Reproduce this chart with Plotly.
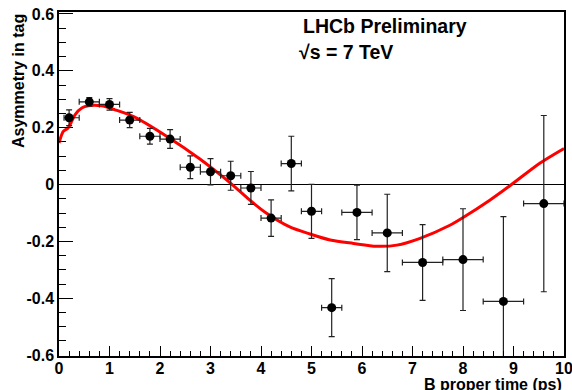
import plotly.graph_objects as go

# ---- data ----
time_ps = [0.2, 0.6, 1.0, 1.4, 1.8, 2.2, 2.6, 3.0, 3.4, 3.8, 4.2, 4.6, 5.0, 5.4, 5.9, 6.5, 7.2, 8.0, 8.8, 9.6]
asym = [0.235, 0.291, 0.282, 0.227, 0.170, 0.160, 0.061, 0.045, 0.031, -0.012, -0.118, 0.074, -0.094, -0.433,
        -0.098, -0.170, -0.274, -0.264, -0.411, -0.067]
asym_err = [0.028, 0.015, 0.02, 0.027, 0.028, 0.033, 0.04, 0.046, 0.051, 0.058, 0.064, 0.096, 0.095, 0.102,
            0.096, 0.136, 0.133, 0.179, 0.298, 0.31]
t_err_minus = [0.1, 0.2, 0.2, 0.2, 0.2, 0.2, 0.2, 0.2, 0.2, 0.2, 0.2, 0.2, 0.2, 0.2, 0.3, 0.3, 0.4, 0.4, 0.4, 0.4]
t_err_plus = [0.2, 0.2, 0.2, 0.2, 0.2, 0.2, 0.2, 0.2, 0.2, 0.2, 0.2, 0.2, 0.2, 0.2, 0.3, 0.3, 0.4, 0.4, 0.4, 0.4]

fit_t = [0, 0.085, 0.18, 0.32, 0.45, 0.58, 0.84, 1.11, 1.49, 2.13, 2.79, 3.19, 3.43, 3.78, 4.11, 4.57, 4.97,
         5.37, 5.83, 6.29, 6.69, 7.15, 7.74, 8.01, 8.53, 8.96, 9.52, 10]
fit_y = [0.146, 0.187, 0.199, 0.246, 0.269, 0.277, 0.277, 0.263, 0.238, 0.17, 0.09, 0.035, 0.0, -0.055,
         -0.101, -0.149, -0.174, -0.195, -0.207, -0.217, -0.213, -0.189, -0.143, -0.115, -0.055, 0.0, 0.075,
         0.127]

x_tickvals = [0, 1, 2, 3, 4, 5, 6, 7, 8, 9, 10]
x_ticktext = ["0", "1", "2", "3", "4", "5", "6", "7", "8", "9", "10"]
y_tickvals = [-0.6, -0.4, -0.2, 0, 0.2, 0.4, 0.6]
y_ticktext = ["-0.6", "-0.4", "-0.2", "0", "0.2", "0.4", "0.6"]

FONT = "Liberation Sans, Arial, Helvetica, sans-serif"

fig = go.Figure()

fig.add_trace(go.Scatter(
    x=fit_t, y=fit_y, mode="lines",
    line=dict(color="#ff0000", width=3, shape="spline", smoothing=0.8),
    hoverinfo="skip", showlegend=False,
))

fig.add_trace(go.Scatter(
    x=time_ps, y=asym, mode="markers",
    marker=dict(color="black", size=9),
    error_y=dict(type="data", array=asym_err, color="#222222", thickness=1.2, width=3),
    error_x=dict(type="data", array=t_err_plus, arrayminus=t_err_minus, symmetric=False,
                 color="#222222", thickness=1.2, width=3),
    showlegend=False,
))

fig.update_layout(
    width=572, height=390, autosize=False,
    margin=dict(l=59, r=8, t=12, b=34, autoexpand=False),
    paper_bgcolor="white", plot_bgcolor="white",
    font=dict(family=FONT, color="black"),
    showlegend=False,
)

fig.update_xaxes(
    range=[0, 10], showgrid=False, zeroline=False, automargin=False,
    showline=True, linecolor="black", linewidth=1.5, mirror=True,
    tickmode="array", tickvals=x_tickvals, ticktext=x_ticktext,
    ticks="inside", ticklen=10, tickcolor="black", tickwidth=1,
    tickfont=dict(family=FONT, size=16, weight="bold"),
    ticklabeloverflow="allow", ticklabelstandoff=-3,
    minor=dict(dtick=0.2, ticks="inside", ticklen=5, tickcolor="black", tickwidth=1, showgrid=False),
)
fig.update_yaxes(
    range=[-0.603, 0.607], showgrid=False, automargin=False,
    zeroline=True, zerolinecolor="black", zerolinewidth=1,
    showline=True, linecolor="black", linewidth=1.5, mirror=True,
    tickmode="array", tickvals=y_tickvals, ticktext=y_ticktext,
    ticks="inside", ticklen=14, tickcolor="black", tickwidth=1,
    tickfont=dict(family=FONT, size=16, weight="bold"),
    ticklabeloverflow="allow",
    minor=dict(dtick=0.05, ticks="inside", ticklen=7, tickcolor="black", tickwidth=1, showgrid=False),
)

# axis titles (ROOT style: aligned to the end of the axis)
fig.add_annotation(
    text="B proper time (ps)", xref="paper", yref="paper", x=1.0, y=0,
    xanchor="right", yanchor="top", yshift=-18, showarrow=False,
    font=dict(family=FONT, size=16, weight="bold"),
)
fig.add_annotation(
    text="Asymmetry in tag", xref="paper", yref="paper", x=0, y=1.0,
    xanchor="center", yanchor="top", xshift=-41, textangle=-90, showarrow=False,
    font=dict(family=FONT, size=16, weight="bold"),
)

fig.add_annotation(
    text="LHCb Preliminary", xref="paper", yref="paper", x=(301 - 59) / 505, y=1.0,
    xanchor="left", yanchor="middle", yshift=-14, showarrow=False,
    font=dict(family=FONT, size=19.5, weight="bold"),
)
fig.add_annotation(
    text="√s = 7 TeV", xref="paper", yref="paper", x=(297 - 59) / 505, y=1.0,
    xanchor="left", yanchor="middle", yshift=-40, showarrow=False,
    font=dict(family=FONT, size=19.5, weight="bold"),
)

fig.write_html(
    "out.html",
    config={"displayModeBar": False},
    post_script="document.body.style.margin='0';document.body.style.overflow='hidden';",
)
